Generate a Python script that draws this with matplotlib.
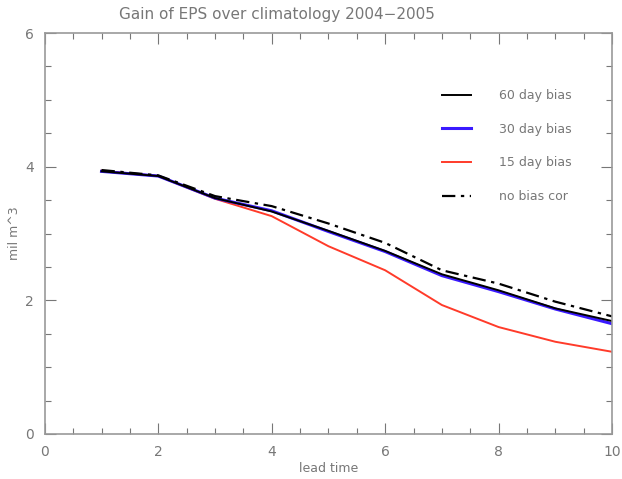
import numpy as np
import matplotlib.pyplot as plt
from matplotlib.ticker import MultipleLocator

lead = [1, 2, 3, 4, 5, 6, 7, 8, 9, 10]
bias60 = [3.93, 3.86, 3.53, 3.33, 3.04, 2.74, 2.39, 2.15, 1.88, 1.69]
bias30 = [3.93, 3.86, 3.53, 3.34, 3.03, 2.73, 2.37, 2.13, 1.87, 1.65]
bias15 = [3.94, 3.86, 3.52, 3.26, 2.81, 2.45, 1.93, 1.60, 1.38, 1.23]
nobias = [3.95, 3.87, 3.56, 3.41, 3.15, 2.86, 2.45, 2.25, 1.98, 1.76]

grey = '#777777'
fig = plt.figure(figsize=(6.22, 4.79), dpi=100)
ax = fig.add_axes([0.072, 0.094, 0.912, 0.837])

ax.plot(lead, bias15, color='#ff3b2a', lw=1.4, label='15 day bias')
ax.plot(lead, bias30, color='#3a1aff', lw=2.2, label='30 day bias')
ax.plot(lead, bias60, color='black', lw=1.4, label='60 day bias')
ax.plot(lead, nobias, color='black', lw=1.6, ls=(0, (6, 2.5, 1.5, 2.5)), label='no bias cor')

ax.set_xlim(0, 10)
ax.set_ylim(0, 6)
ax.xaxis.set_major_locator(MultipleLocator(2))
ax.xaxis.set_minor_locator(MultipleLocator(0.5))
ax.yaxis.set_major_locator(MultipleLocator(2))
ax.yaxis.set_minor_locator(MultipleLocator(0.5))
ax.tick_params(which='both', direction='in', top=True, right=True, color=grey,
               labelcolor=grey, labelsize=10, width=0.8)
ax.tick_params(which='major', length=8, pad=8)
ax.tick_params(which='minor', length=4)
for s in ax.spines.values():
    s.set_color('#999999')
    s.set_linewidth(1.2)

ax.set_title('Gain of EPS over climatology 2004\u22122005', color=grey, fontsize=11,
             x=0.41, pad=10)
ax.set_xlabel('lead time', color=grey, fontsize=9, labelpad=2)
ax.set_ylabel('mil m^3', color=grey, fontsize=9, labelpad=3)

h, l = ax.get_legend_handles_labels()
order = [2, 1, 0, 3]
leg = ax.legend([h[i] for i in order], [l[i] for i in order], loc='upper left',
                bbox_to_anchor=(0.681, 0.888), frameon=False, fontsize=9,
                handlelength=2.3, handletextpad=2.2, labelspacing=1.65)
for t in leg.get_texts():
    t.set_color(grey)

fig.savefig('out.png', dpi=100)
